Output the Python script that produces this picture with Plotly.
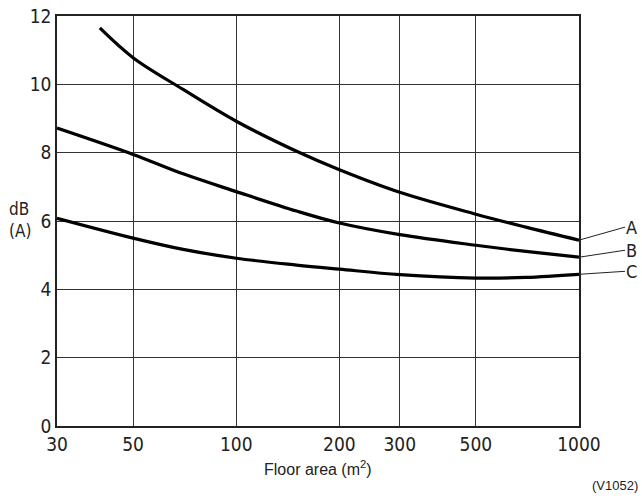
import math
import plotly.graph_objects as go

# Floor area (m^2) and dB(A) values
area_A = [40, 50, 70, 100, 150, 200, 300, 500, 700, 1000]
db_A = [11.65, 10.78, 9.85, 8.92, 8.04, 7.5, 6.84, 6.2, 5.82, 5.44]

area_B = [30, 50, 70, 100, 150, 200, 300, 500, 700, 1000]
db_B = [8.72, 7.95, 7.38, 6.86, 6.29, 5.94, 5.6, 5.29, 5.11, 4.94]

area_C = [30, 50, 70, 100, 150, 200, 300, 500, 700, 1000]
db_C = [6.08, 5.5, 5.17, 4.91, 4.71, 4.59, 4.43, 4.33, 4.35, 4.44]

series_names = ["A", "B", "C"]
x_ticks = [30, 50, 100, 200, 300, 500, 1000]
y_ticks = [0, 2, 4, 6, 8, 10, 12]

FONT = "DejaVu Sans Condensed, Liberation Sans Narrow, Roboto, Liberation Sans, sans-serif"
INK = "#222"

fig = go.Figure()
series = [(area_A, db_A), (area_B, db_B), (area_C, db_C)]
for (xs, ys), name in zip(series, series_names):
    fig.add_trace(go.Scatter(x=xs, y=ys, mode="lines", name=name,
                             line=dict(color="black", width=3.2, shape="spline", smoothing=1.0),
                             showlegend=False, hoverinfo="skip"))

offsets = {"A": (46, -13), "B": (46, -7), "C": (46, -3)}
for (xs, ys), name in zip(series, series_names):
    ax, ay = offsets[name]
    fig.add_annotation(x=math.log10(xs[-1]), y=ys[-1], xref="x", yref="y",
                       text=name, showarrow=True, arrowhead=0, arrowwidth=1,
                       arrowcolor=INK, ax=ax, ay=ay, xanchor="left", yanchor="middle",
                       borderpad=0, standoff=0,
                       font=dict(family=FONT, size=18, color=INK))

fig.add_annotation(x=-0.071, y=0.502, xref="paper", yref="paper", text="dB<br>(A)",
                   showarrow=False, align="left", xanchor="center", yanchor="middle",
                   font=dict(family=FONT, size=17, color=INK))
fig.add_annotation(x=0.5, y=-0.102, xref="paper", yref="paper", text="Floor area (m<sup>2</sup>)",
                   showarrow=False, xanchor="center", yanchor="middle",
                   font=dict(family="Liberation Sans, Arial, sans-serif", size=16, color=INK))
fig.add_annotation(x=1.117, y=-0.144, xref="paper", yref="paper", text="(V1052)",
                   showarrow=False, xanchor="right", yanchor="middle",
                   font=dict(family="Liberation Sans, Arial, sans-serif", size=13, color=INK))

fig.update_layout(
    width=642, height=496,
    margin=dict(l=57, r=63, t=16, b=70, autoexpand=False),
    paper_bgcolor="white", plot_bgcolor="white",
    font=dict(family=FONT, size=19, color=INK),
    xaxis=dict(type="log", range=[math.log10(30), 3],
               tickvals=x_ticks, ticktext=[str(v) for v in x_ticks],
               showgrid=True, gridcolor="#333", gridwidth=1,
               showline=True, linecolor=INK, linewidth=1.5, mirror=True,
               ticks="", zeroline=False, automargin=False),
    yaxis=dict(range=[0, 12], tickvals=y_ticks,
               showgrid=True, gridcolor="#333", gridwidth=1,
               showline=True, linecolor=INK, linewidth=1.5, mirror=True,
               ticks="", zeroline=False, automargin=False),
)

fig.write_html("out.html", config={"displayModeBar": False},
               post_script="document.body.style.margin='0';document.body.style.overflow='hidden';")
